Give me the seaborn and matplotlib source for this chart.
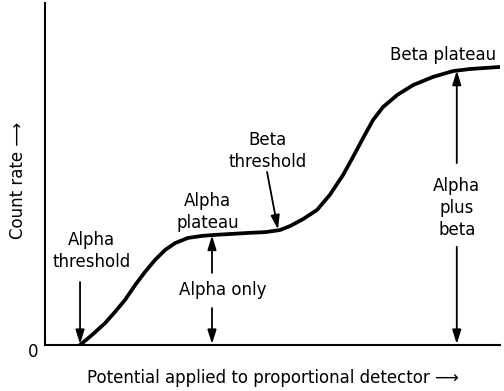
import matplotlib
matplotlib.use("Agg")
import matplotlib.pyplot as plt
import seaborn as sns
import pandas as pd

# Curve (potential, count rate), both on 0-100 scales
potential = [7.7, 10.3, 13.2, 15.4, 17.6, 19.8, 22.0, 24.2, 26.4, 28.6, 31.4,
             34.5, 37.4, 41.3, 45.0, 48.4, 51.6, 53.9, 56.7, 59.8, 62.6, 65.5,
             67.7, 69.9, 72.1, 74.3, 77.4, 80.9, 85.3, 89.7, 93.4, 96.7, 100.0]
count_rate = [0.0, 2.9, 6.4, 9.7, 13.2, 17.5, 21.4, 24.9, 27.8, 29.8, 31.3,
              31.9, 32.2, 32.5, 32.8, 33.0, 33.6, 34.8, 36.8, 39.5, 43.9, 49.7,
              55.0, 60.5, 65.8, 69.6, 73.1, 76.0, 78.4, 80.1, 80.7, 81.0, 81.3]

x_label = "Potential applied to proportional detector \u27f6"
y_label = "Count rate \u27f6"
zero_label = "0"

# Annotation labels
lbl_alpha_threshold = "Alpha\nthreshold"
lbl_alpha_plateau = "Alpha\nplateau"
lbl_alpha_only = "Alpha only"
lbl_beta_threshold = "Beta\nthreshold"
lbl_beta_plateau = "Beta plateau"
lbl_alpha_plus_beta = "Alpha\nplus\nbeta"

df = pd.DataFrame({"potential": potential, "count_rate": count_rate})

sns.set_theme(style="white")
plt.rcParams["font.family"] = ["DejaVu Sans"]
plt.rcParams["text.color"] = "black"
plt.rcParams["axes.labelcolor"] = "black"

fig = plt.figure(figsize=(5.04, 3.91), dpi=100)
ax = fig.add_axes([45 / 504, 1 - 345 / 391, 455 / 504, 342 / 391])

sns.lineplot(data=df, x="potential", y="count_rate", color="black",
             linewidth=2.7, ax=ax, solid_capstyle="round",
             solid_joinstyle="round")

ax.set_xlim(0, 100)
ax.set_ylim(0, 100)
ax.set_xticks([])
ax.set_yticks([])
for side in ["top", "right"]:
    ax.spines[side].set_visible(False)
for side in ["left", "bottom"]:
    ax.spines[side].set_color("black")
    ax.spines[side].set_linewidth(1.5)

fs = 12
ax.set_xlabel(x_label, fontsize=fs, color="black", va="center")
ax.xaxis.set_label_coords(0.50, -0.097)
ax.set_ylabel(y_label, fontsize=fs, color="black", va="center")
ax.yaxis.set_label_coords(-0.059, 0.48)

ax.text(-2.6, -2.0, zero_label, fontsize=fs, ha="center", va="center",
        clip_on=False, color="black")

arrow = dict(arrowstyle="-|>,head_length=0.7,head_width=0.22", color="black",
             lw=1.3, shrinkA=0, shrinkB=0, mutation_scale=12)

def txt(x, y, s):
    ax.text(x, y, s, fontsize=fs, ha="center", va="center", linespacing=1.3,
            color="black")

def arr(x0, y0, x1, y1):
    ax.annotate("", xy=(x1, y1), xytext=(x0, y0), arrowprops=arrow)

# Alpha threshold
txt(10.3, 27.5, lbl_alpha_threshold)
arr(7.7, 18.4, 7.7, 0.3)

# Alpha plateau
txt(35.8, 38.9, lbl_alpha_plateau)

# Alpha only
txt(39.1, 16.1, lbl_alpha_only)
arr(36.7, 21.1, 36.7, 32.0)
arr(36.7, 10.8, 36.7, 0.3)

# Beta threshold
txt(49.0, 56.7, lbl_beta_threshold)
arr(48.8, 50.6, 51.2, 33.8)

# Beta plateau
txt(87.5, 84.8, lbl_beta_plateau)

# Alpha plus beta
txt(90.5, 40.1, lbl_alpha_plus_beta)
arr(90.5, 53.2, 90.5, 80.2)
arr(90.5, 28.7, 90.5, 0.3)

fig.savefig("out.png", dpi=100)
